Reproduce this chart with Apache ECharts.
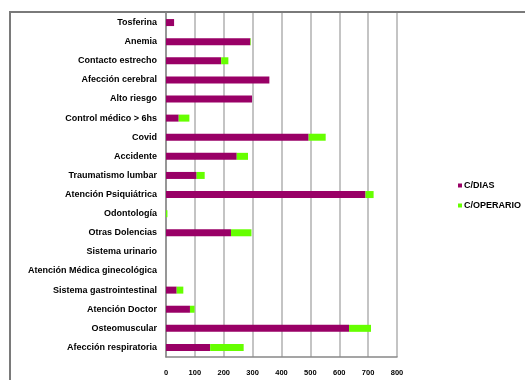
<!DOCTYPE html>
<html>
<head>
<meta charset="utf-8">
<script src="https://cdn.jsdelivr.net/npm/echarts@6/dist/echarts.min.js"></script>
<style>html,body{margin:0;padding:0;background:#fff}#c{width:525px;height:380px}</style>
</head>
<body>
<div id="c"></div>
<script>
var categories = ["Tosferina","Anemia","Contacto estrecho","Afección cerebral","Alto riesgo","Control médico > 6hs","Covid","Accidente","Traumatismo lumbar","Atención Psiquiátrica","Odontología","Otras Dolencias","Sistema urinario","Atención Médica ginecológica","Sistema gastrointestinal","Atención Doctor","Osteomuscular","Afección respiratoria"];
var seriesNames = ["C/DIAS","C/OPERARIO"];
var diasValues = [28,292,191,358,298,44,494,245,106,691,0,225,0,0,37,83,634,153];
var operarioValues = [0,2,25,0,0,37,59,39,28,28,5,71,0,0,23,16,76,116];
var xTicks = [0,100,200,300,400,500,600,700,800];

var chart = echarts.init(document.getElementById('c'));
var font = '"Liberation Sans", Arial, sans-serif';
chart.setOption({
  animation: false,
  textStyle: {fontFamily: font},
  graphic: [{type:'rect', shape:{x:10,y:12,width:600,height:400}, style:{fill:'none', stroke:'#7a7a7a', lineWidth:2}, z:0}],
  grid: {left:166, right:128, top:13, bottom:23, containLabel:false},
  legend: {
    orient:'vertical', left:453, top:176, itemWidth:4, itemHeight:4, itemGap:11,
    icon:'rect', textStyle:{fontSize:9, fontWeight:'bold', color:'#000', fontFamily:font, padding:[0,0,0,-3]},
    data: seriesNames
  },
  xAxis: {
    type:'value', min:xTicks[0], max:xTicks[xTicks.length-1], interval:100,
    axisLine:{show:true, lineStyle:{color:'#888', width:1.5}},
    axisTick:{show:false},
    axisLabel:{fontSize:7.5, fontWeight:'bold', color:'#000', margin:12},
    splitLine:{show:true, lineStyle:{color:'#c4c4c4', width:2}}
  },
  yAxis: {
    type:'category', data:categories, inverse:true,
    axisLine:{show:true, lineStyle:{color:'#888', width:1.5}},
    axisTick:{show:false},
    axisLabel:{fontSize:9, fontWeight:'bold', color:'#000', margin:9}
  },
  series: [
    {name:seriesNames[0], type:'bar', stack:'t', data:diasValues, barWidth:7, itemStyle:{color:'#990066'}},
    {name:seriesNames[1], type:'bar', stack:'t', data:operarioValues, barWidth:7, itemStyle:{color:'#66ff00'}}
  ]
});
</script>
</body>
</html>
